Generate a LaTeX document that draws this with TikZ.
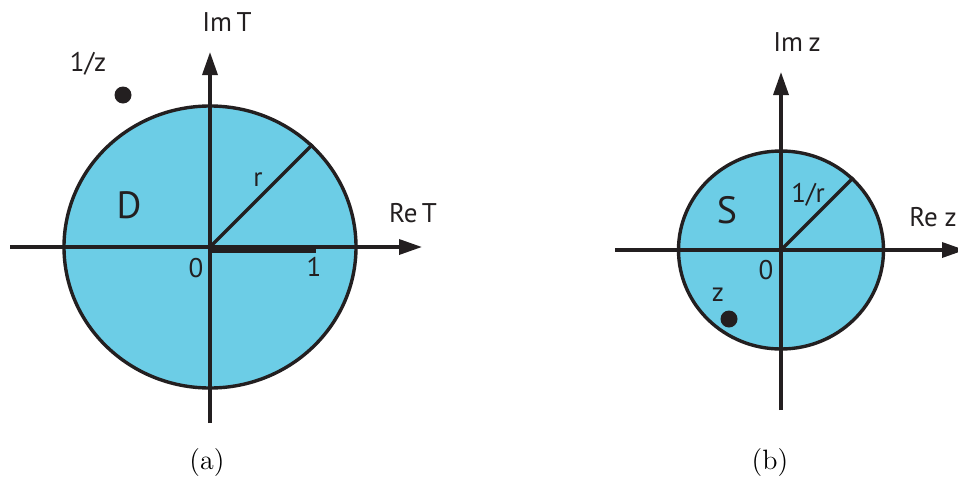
\documentclass[tikz,border=0pt]{standalone}
\usepackage{fontspec}
\setsansfont{PT Sans}
\usepackage{tikz}
\usetikzlibrary{arrows.meta,shapes.geometric}
\definecolor{DiskBlue}{HTML}{6CCDE6}
\definecolor{InkBlack}{HTML}{231F20}

\begin{document}
\begin{tikzpicture}[x=0.5pt, y=-0.5pt,
  disk/.style={ellipse, draw=InkBlack, fill=DiskBlue, line width=1.7pt, inner sep=0pt},
  axis/.style={-{Triangle[length=11.5pt,width=7.5pt]}, draw=InkBlack, line width=1.7pt},
  ray/.style={draw=InkBlack, line width=1.7pt},
  lbl/.style={font=\sffamily\fontsize{13.5}{15}\selectfont, text=InkBlack, inner sep=0pt},
  big/.style={font=\sffamily\fontsize{19}{21}\selectfont, text=InkBlack, inner sep=0pt},
  pt/.style={circle, fill=InkBlack, minimum size=8.5pt, inner sep=0pt},
  subcap/.style={font=\fontsize{14}{16}\selectfont, inner sep=0pt}]
\clip (0,0) rectangle (958,477);

% (a) the T-plane
\node[disk, minimum width=146pt, minimum height=141pt] (diskD) at (210,247) {};
\coordinate (originD) at (210,247);
\coordinate (reLeftD) at (10,247);
\coordinate (reRightD) at (422,247);
\coordinate (imLowD) at (210,423);
\coordinate (imHighD) at (210,52);
\coordinate (barStartD) at (210,248.5);
\coordinate (barEndD) at (316,248.5);
\draw[axis] (reLeftD) -- (reRightD);
\draw[axis] (imLowD) -- (imHighD);
\draw[ray] (originD) -- (diskD.45);
\draw[draw=InkBlack, line width=4pt] (barStartD) -- (barEndD);

\node[pt] (dotD) at (123,95) {};
\node[lbl] (invzD) at (88,64) {1/z};
\node[lbl] (imD) at (227,22) {Im\,T};
\node[lbl] (reD) at (413,213) {Re\,T};
\node[lbl] (rD) at (258,180) {r};
\node[lbl] (zeroD) at (196,268) {0};
\node[lbl] (oneD) at (314,267) {1};
\node[big] (nameD) at (129,205) {D};
\node[subcap] (capA) at (207,463) {(a)};

% (b) the z-plane
\node[disk, minimum width=102.5pt, minimum height=99pt] (diskS) at (781,250) {};
\coordinate (originS) at (781,250);
\coordinate (reLeftS) at (615,250);
\coordinate (reRightS) at (965,250);
\coordinate (imLowS) at (781,410);
\coordinate (imHighS) at (781,72);
\draw[axis] (reLeftS) -- (reRightS);
\draw[axis] (imLowS) -- (imHighS);
\draw[ray] (originS) -- (diskS.45);

\node[pt] (dotS) at (729,319) {};
\node[lbl] (zS) at (718,295) {z};
\node[lbl] (imS) at (797,42) {Im\hspace{0.2em}z};
\node[lbl, anchor=west] (reS) at (909,217) {Re\hspace{0.25em}z};
\node[lbl] (rS) at (808,195) {1/r};
\node[lbl] (zeroS) at (766,270) {0};
\node[big] (nameS) at (727,210) {S};
\node[subcap] (capB) at (770,463) {(b)};
\end{tikzpicture}
\end{document}
